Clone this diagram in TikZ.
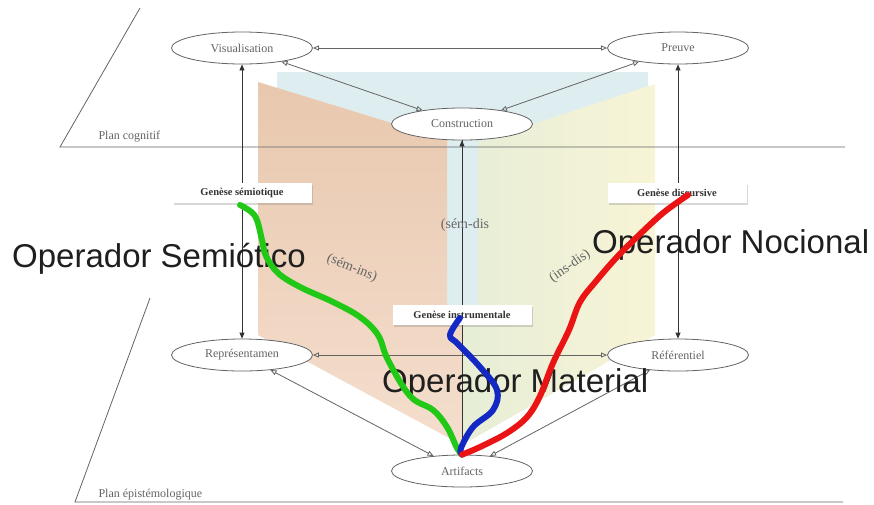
\documentclass[tikz,border=0pt]{standalone}
\usepackage{fontspec}
\setmainfont{Liberation Serif}
\newfontfamily\opfont{Liberation Sans}
\usetikzlibrary{arrows.meta,shapes.geometric,shadows}

\definecolor{bleuplan}{RGB}{222,237,239}
\definecolor{orangehaut}{RGB}{232,200,174}
\definecolor{orangebas}{RGB}{245,222,206}
\definecolor{vertplan}{RGB}{230,238,214}
\definecolor{jauneplan}{RGB}{248,244,214}
\definecolor{traitgris}{RGB}{100,100,100}
\definecolor{vertop}{RGB}{34,200,22}
\definecolor{bleuop}{RGB}{20,40,195}
\definecolor{rougeop}{RGB}{235,20,20}

\begin{document}
\begin{tikzpicture}[x=1pt,y=-1pt,
    pole/.style={ellipse,draw=traitgris,line width=0.8pt,fill=white,minimum width=141pt,minimum height=32pt,inner sep=0pt,text=traitgris,font=\fontsize{12}{14}\selectfont},
    genese/.style={fill=white,minimum width=139pt,minimum height=20pt,inner sep=0pt,text=black!80,font=\bfseries\fontsize{10.5}{12}\selectfont,drop shadow={shadow xshift=1.5pt,shadow yshift=-1.5pt,opacity=0.3}},
    lien/.style={traitgris,line width=0.8pt,{Triangle[open,length=6pt,width=5pt]}-{Triangle[open,length=6pt,width=5pt]}},
    axe/.style={black!80,line width=0.8pt,{Triangle[length=6pt,width=5pt]}-{Triangle[length=6pt,width=5pt]}},
    plan/.style={traitgris,line width=0.8pt},
    couple/.style={text=traitgris,font=\fontsize{14}{16}\selectfont},
    operateur/.style={anchor=base west,inner sep=0pt,text=black!88,font=\opfont\fontsize{33}{36}\selectfont},
    trace/.style={line width=6pt,line cap=round,line join=round}]

    \fill[white] (0,0) rectangle (874,504);
    \useasboundingbox (0,0) rectangle (874,504);

    % les trois plans
    \fill[bleuplan] (277,72) rectangle (648,345);
    \shade[top color=orangehaut,bottom color=orangebas] (258,82) -- (447,140) -- (447,320) -- (462,320) -- (462,445) -- (258,335) -- cycle;
    \shade[left color=vertplan,right color=jauneplan] (478,142) -- (655,84) -- (655,335) -- (462,445) -- (462,320) -- (478,320) -- cycle;

    % plan cognitif et plan epistemologique
    \draw[plan] (140,8) -- (60,147) -- (845,147);
    \draw[plan] (150,298) -- (75,502) -- (843,502);
    \node[anchor=base west,text=traitgris,font=\fontsize{12}{14}\selectfont] (pcog) at (95,139) {Plan cognitif};
    \node[anchor=base west,text=traitgris,font=\fontsize{12}{14}\selectfont] (pepi) at (95,497) {Plan épistémologique};

    \node[pole] (visu) at (242,48) {Visualisation};
    \node[pole] (preuve) at (678,48) {Preuve};
    \node[pole] (constr) at (462,124) {Construction};
    \node[pole] (repres) at (242,355) {Représentamen};
    \node[pole] (refer) at (678,355) {Référentiel};
    \node[pole] (artef) at (462,471) {Artifacts};

    \draw[lien] (visu) -- (preuve);
    \draw[lien] (visu) -- (constr);
    \draw[lien] (preuve) -- (constr);
    \draw[lien] (repres) -- (refer);
    \draw[lien] (repres) -- (artef);
    \draw[lien] (refer) -- (artef);
    \draw[axe] (visu) -- (repres);
    \draw[axe] (preuve) -- (refer);
    \draw[axe,-] (constr) -- (artef);
    \draw[black!80,line width=0.8pt,{Triangle[length=6pt,width=5pt]}-] (constr.south) -- ++(0,10);

    \node[genese] (gsem) at (242,193) {Genèse sémiotique};
    \node[genese] (gdis) at (677,193) {Genèse discursive};
    \node[genese] (gins) at (462,315) {Genèse instrumentale};

    \node[couple] (semdis) at (465,225) {(sém-dis};
    \node[couple,rotate=-22] (semins) at (352,268) {(sém-ins)};
    \node[couple,rotate=35] (insdis) at (570,266) {(ins-dis)};

    \node[operateur] (opsem) at (12,267) {Operador Semiótico};
    \node[operateur] (opnoc) at (592,253) {Operador Nocional};
    \node[operateur] (opmat) at (382,392) {Operador Material};

    % operateurs traces a la main
    \draw[trace,vertop] plot[smooth,tension=0.6] coordinates {(240,205) (255,216) (262,240) (266,256) (278,273) (300,287) (333,302) (360,317) (378,335) (388,360) (410,396) (433,410) (447,427) (457,448) (artef.north)};
    \draw[trace,bleuop] plot[smooth,tension=0.6] coordinates {(460,318) (450,335) (458,344) (480,367) (497,390) (493,410) (473,427) (461,448) (artef.north)};
    \draw[trace,rougeop] plot[smooth,tension=0.6] coordinates {(688,195) (663,213) (637,237) (617,257) (597,280) (580,302) (569,330) (553,363) (540,396) (527,417) (507,433) (480,447) (artef.north)};
\end{tikzpicture}
\end{document}
